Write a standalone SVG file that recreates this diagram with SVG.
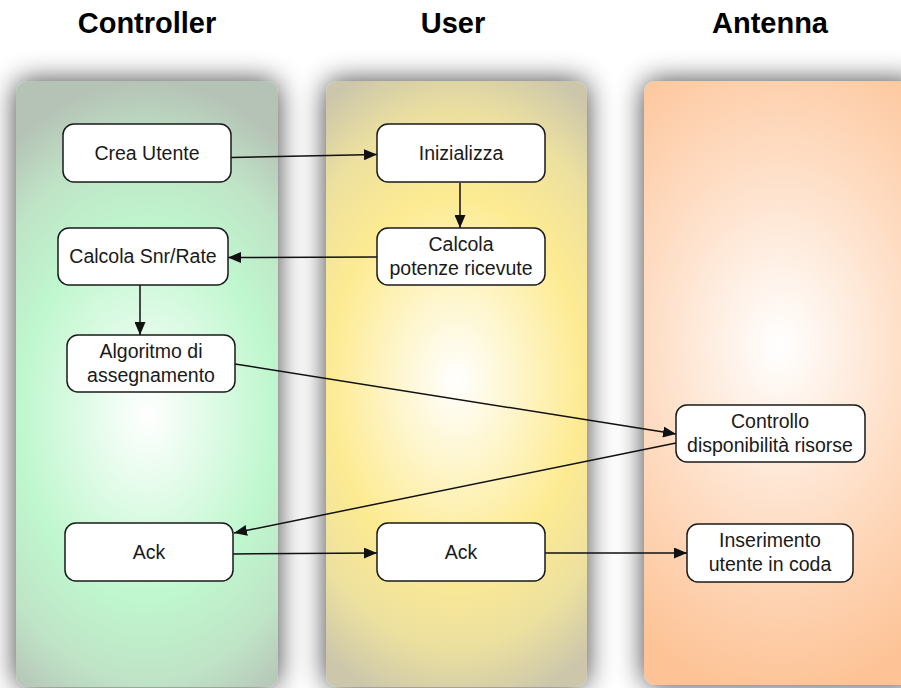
<svg xmlns="http://www.w3.org/2000/svg" width="901" height="688" viewBox="0 0 901 688">
  <defs>
    <style>
      .title { font-family: "Liberation Sans", Arial, sans-serif; font-weight: bold; font-size: 29px; fill: #000; text-anchor: middle; }
      .box { fill: #ffffff; stroke: #1a1a1a; stroke-width: 1.5; }
      .label { font-family: "Liberation Sans", Arial, sans-serif; font-size: 19.5px; fill: #1a1a1a; text-anchor: middle; }
      .edge { fill: none; stroke: #111; stroke-width: 1.5; marker-end: url(#arrow); }
    </style>
    <filter id="lane-shadow" x="-30%" y="-20%" width="160%" height="140%">
      <feGaussianBlur in="SourceAlpha" stdDeviation="14" result="blur"/>
      <feComponentTransfer in="blur" result="soft">
        <feFuncA type="linear" slope="0.75"/>
      </feComponentTransfer>
      <feMerge>
        <feMergeNode in="soft"/>
        <feMergeNode in="SourceGraphic"/>
      </feMerge>
    </filter>
    <!-- elliptical lane fills: bright centre, saturated sides, greyer top and bottom -->
    <radialGradient id="fill-controller" gradientUnits="userSpaceOnUse" cx="147" cy="415" r="230" gradientTransform="translate(147 415) scale(1 1.45) translate(-147 -415)">
      <stop offset="0" stop-color="#ffffff"/>
      <stop offset="0.55" stop-color="#bff7ce"/>
      <stop offset="0.8" stop-color="#bfe3c6"/>
      <stop offset="1" stop-color="#b5c3b6"/>
    </radialGradient>
    <radialGradient id="fill-user" gradientUnits="userSpaceOnUse" cx="456" cy="380" r="230" gradientTransform="translate(456 380) scale(1 1.45) translate(-456 -380)">
      <stop offset="0" stop-color="#ffffff"/>
      <stop offset="0.55" stop-color="#fdeb92"/>
      <stop offset="0.8" stop-color="#ece09f"/>
      <stop offset="1" stop-color="#ccc7ab"/>
    </radialGradient>
    <radialGradient id="fill-antenna" gradientUnits="userSpaceOnUse" cx="780" cy="345" r="250" gradientTransform="translate(780 345) scale(1 1.4) translate(-780 -345)">
      <stop offset="0" stop-color="#ffffff"/>
      <stop offset="0.55" stop-color="#fedcc2"/>
      <stop offset="1" stop-color="#fdc396"/>
    </radialGradient>
    <marker id="arrow" markerUnits="userSpaceOnUse" markerWidth="13" markerHeight="11" refX="13" refY="5.5" orient="auto">
      <path d="M0,0 L13,5.5 L0,11 z" fill="#111"/>
    </marker>
  </defs>

  <rect width="901" height="688" fill="#ffffff"/>

  <!-- swimlanes -->
  <g id="lanes">
    <rect id="lane-controller" x="16" y="81" width="262" height="606" rx="12" fill="url(#fill-controller)" filter="url(#lane-shadow)"/>
    <rect id="lane-user" x="326" y="81" width="261" height="606" rx="12" fill="url(#fill-user)" filter="url(#lane-shadow)"/>
    <rect id="lane-antenna" x="644" y="81" width="275" height="604" rx="12" fill="url(#fill-antenna)" filter="url(#lane-shadow)"/>
  </g>

  <!-- lane titles -->
  <g id="titles">
    <text class="title" x="147" y="33">Controller</text>
    <text class="title" x="453" y="33">User</text>
    <text class="title" x="770" y="33">Antenna</text>
  </g>

  <!-- connectors -->
  <g id="connectors">
    <line class="edge" x1="231" y1="157.5" x2="377" y2="154.5"/>
    <line class="edge" x1="460" y1="183" x2="460" y2="228"/>
    <line class="edge" x1="377" y1="257" x2="228" y2="257.5"/>
    <line class="edge" x1="140" y1="285" x2="140" y2="335"/>
    <line class="edge" x1="235" y1="364" x2="676" y2="434"/>
    <line class="edge" x1="676" y1="443" x2="234" y2="533"/>
    <line class="edge" x1="233" y1="554" x2="377" y2="553"/>
    <line class="edge" x1="545" y1="553" x2="687" y2="553"/>
  </g>

  <!-- nodes -->
  <g id="node-crea-utente">
    <rect class="box" x="63" y="124" width="168" height="58" rx="11"/>
    <text class="label" x="147" y="160">Crea Utente</text>
  </g>
  <g id="node-inizializza">
    <rect class="box" x="377" y="124" width="168" height="58" rx="11"/>
    <text class="label" x="461" y="160">Inizializza</text>
  </g>
  <g id="node-calcola-snr">
    <rect class="box" x="58" y="228" width="170" height="57" rx="11"/>
    <text class="label" x="143" y="263">Calcola Snr/Rate</text>
  </g>
  <g id="node-calcola-potenze">
    <rect class="box" x="377" y="228" width="168" height="57" rx="11"/>
    <text class="label" x="461" y="251">Calcola</text>
    <text class="label" x="461" y="275">potenze ricevute</text>
  </g>
  <g id="node-algoritmo">
    <rect class="box" x="67" y="335" width="168" height="57" rx="11"/>
    <text class="label" x="151" y="358">Algoritmo di</text>
    <text class="label" x="151" y="382">assegnamento</text>
  </g>
  <g id="node-controllo">
    <rect class="box" x="676" y="405" width="189" height="57" rx="11"/>
    <text class="label" x="770" y="428">Controllo</text>
    <text class="label" x="770" y="452">disponibilità risorse</text>
  </g>
  <g id="node-ack-controller">
    <rect class="box" x="65" y="523" width="168" height="58" rx="11"/>
    <text class="label" x="149" y="559">Ack</text>
  </g>
  <g id="node-ack-user">
    <rect class="box" x="377" y="523" width="168" height="58" rx="11"/>
    <text class="label" x="461" y="559">Ack</text>
  </g>
  <g id="node-inserimento">
    <rect class="box" x="687" y="524" width="166" height="58" rx="11"/>
    <text class="label" x="770" y="547">Inserimento</text>
    <text class="label" x="770" y="571">utente in coda</text>
  </g>
</svg>
